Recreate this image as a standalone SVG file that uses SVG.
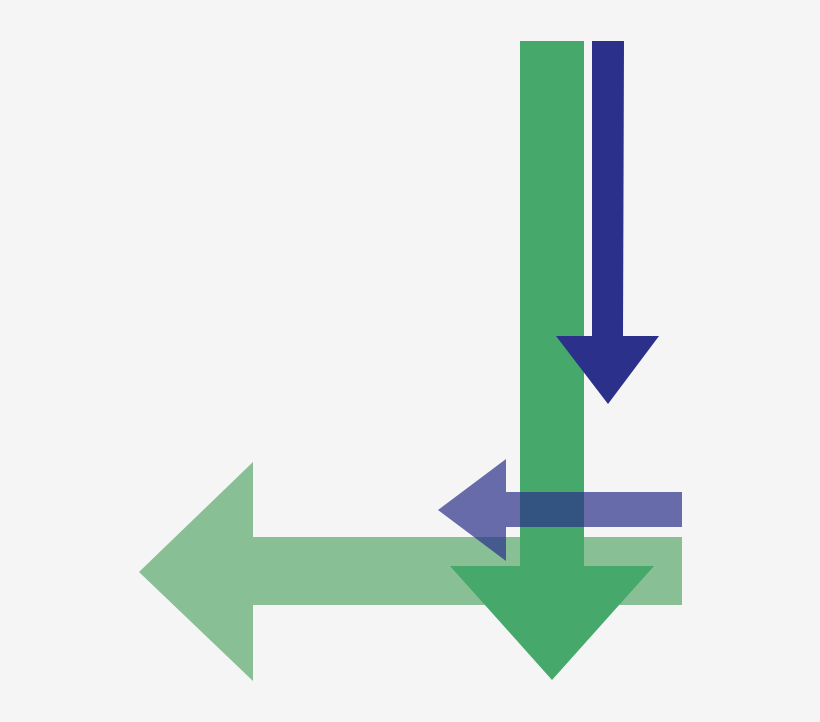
<svg xmlns="http://www.w3.org/2000/svg" width="820" height="722" viewBox="0 0 820 722">
<style>
.lg{fill:#88bf95}
.g{fill:#46a96b}
.db{fill:#2b318a}
.lb{fill:#2b318a;fill-opacity:0.7}
</style>
<rect width="820" height="722" fill="#f5f5f5"/>
<g id="arrow-light-green"><polygon class="lg" points="682,537 682,605 253,605 253,681 139,572 253,462 253,537"/></g>
<g id="arrow-green"><polygon class="g" points="520,41 584,41 584,566 654,566 552,680 450,566 520,566"/></g>
<g id="arrow-dark-blue"><polygon class="db" points="592,41 624,41 623,336 659,336 608,404 556,336 592,336"/></g>
<g id="arrow-light-blue"><polygon class="lb" points="682,492 682,527 506,527 506,561 438,510 506,459 506,492"/></g>
<g id="connectors"></g>
</svg>
